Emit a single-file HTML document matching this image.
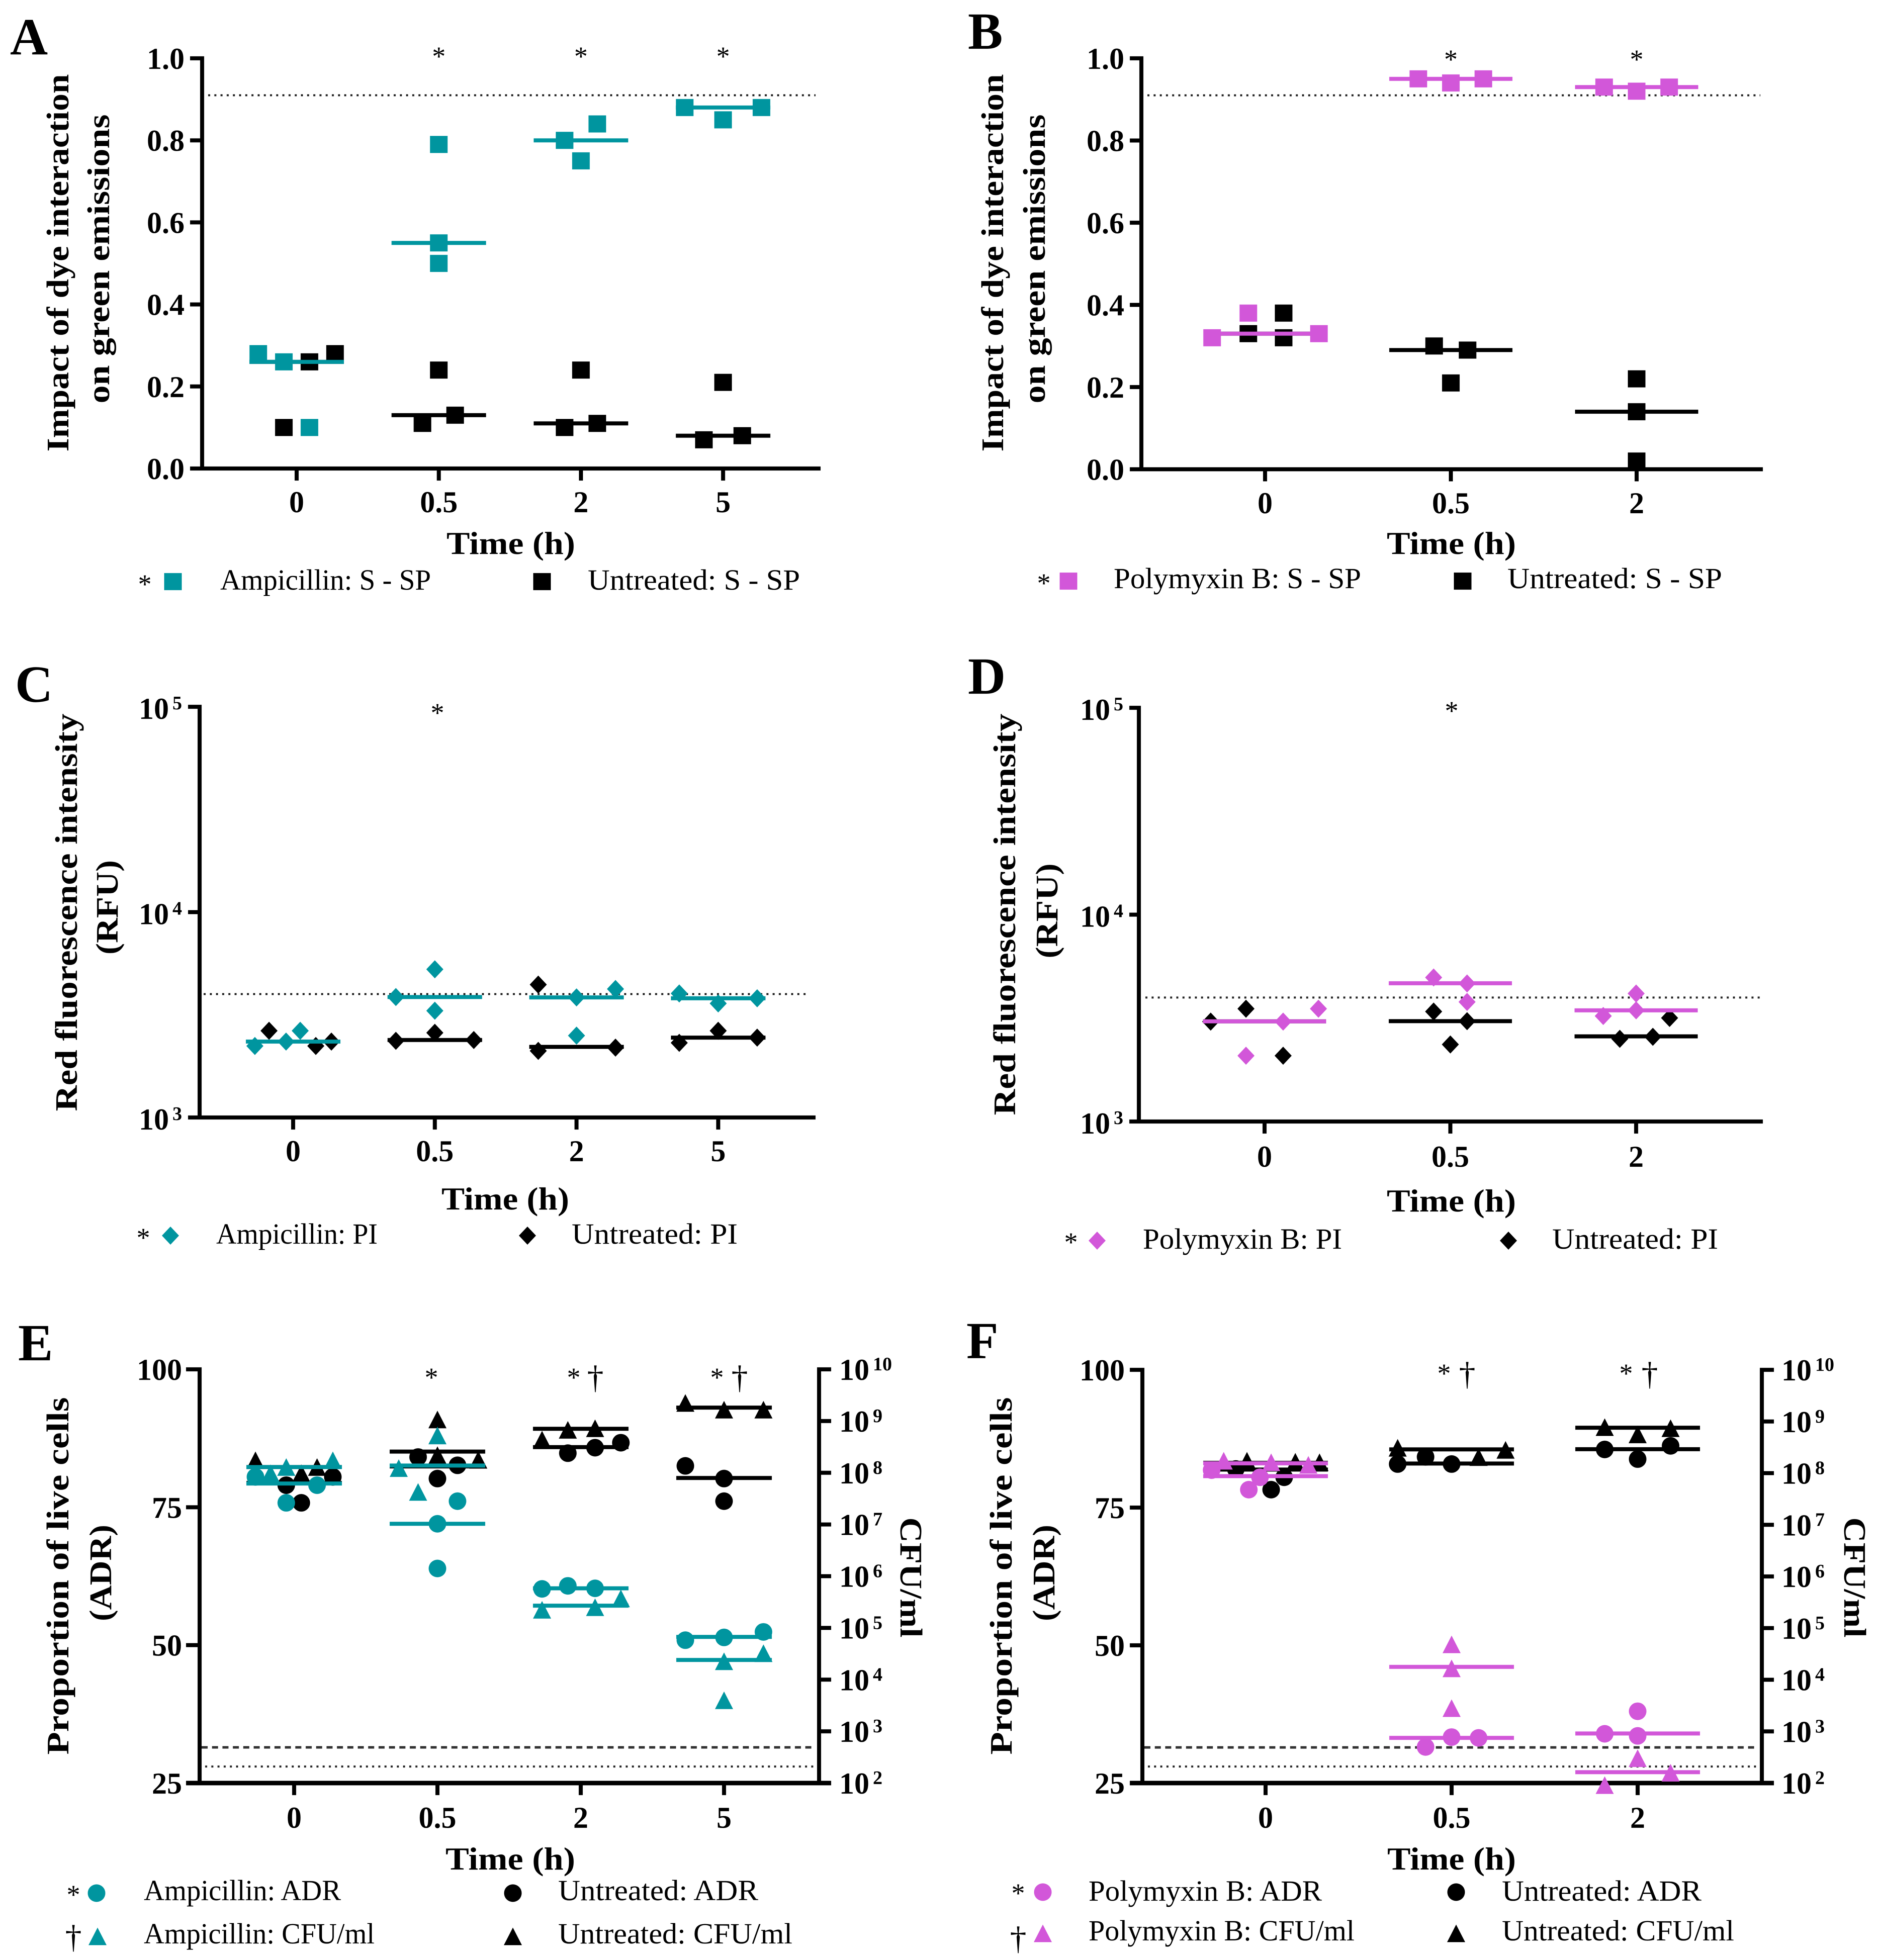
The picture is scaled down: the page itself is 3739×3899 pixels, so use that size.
<!DOCTYPE html>
<html lang="en">
<head>
<meta charset="utf-8">
<title>Dye interaction, PI fluorescence and viability panels</title>
<style>
html,body{margin:0;padding:0;background:#fff;}
body{width:3739px;height:3899px;overflow:hidden;}
svg{display:block;filter:blur(0.9px);}
text{font-family:"Liberation Serif","Times New Roman",serif;fill:#000;}
</style>
</head>
<body>
<svg id="figure" xmlns="http://www.w3.org/2000/svg" width="3739" height="3899" viewBox="0 0 3739 3899">
<rect x="0" y="0" width="3739" height="3899" fill="#fff"/>
</svg>
<script>
/* ---------- Panel A ---------- */
const aCategories = ['0','0.5','2','5'];
const aYTicks = [0,0.2,0.4,0.6,0.8,1.0];
const aYTickLabels = ['0.0','0.2','0.4','0.6','0.8','1.0'];
const aUntValues = [[.10,.26,.28],[.24,.11,.13],[.24,.10,.11],[.21,.07,.08]];
const aUntJitter = [[-.09,.09,.27],[0,-.115,.115],[0,-.115,.115],[0,-.135,.135]];
const aUntMeans = [.26,.13,.11,.08];
const aDrugValues = [[.28,.26,.10],[.79,.55,.50],[.80,.84,.75],[.88,.85,.88]];
const aDrugJitter = [[-.27,-.09,.09],[0,0,0],[-.115,.115,0],[-.27,0,.27]];
const aDrugMeans = [.26,.55,.80,.88];
const aThreshold = [0.91];

/* ---------- Panel B ---------- */
const bCategories = ['0','0.5','2'];
const bYTicks = [0,0.2,0.4,0.6,0.8,1.0];
const bYTickLabels = ['0.0','0.2','0.4','0.6','0.8','1.0'];
const bUntValues = [[.33,.38,.32],[.30,.29,.21],[.22,.14,.02]];
const bUntJitter = [[-.09,.1,.1],[-.09,.09,0],[0,0,0]];
const bUntMeans = [.33,.29,.14];
const bDrugValues = [[.32,.38,.33],[.95,.94,.95],[.93,.92,.93]];
const bDrugJitter = [[-.285,-.09,.29],[-.175,0,.175],[-.175,0,.175]];
const bDrugMeans = [.33,.95,.93];
const bThreshold = [0.91];

/* ---------- Panel C ---------- */
const cCategories = ['0','0.5','2','5'];
const cYTicks = [1000,10000,100000];
const cYTickBase = ['10','10','10'];
const cYTickExp = ['3','4','5'];
const cUntValues = [[2644,2229,2342],[2363,2585,2384],[4437,2111,2189],[2310,2644,2449]];
const cUntJitter = [[-.17,.16,.27],[-.275,0,.275],[-.27,-.27,.275],[-.275,0,.275]];
const cUntMeans = [2342,2384,2208,2449];
const cDrugValues = [[2229,2342,2644],[3860,5265,3311],[3843,4223,2505],[4019,3593,3807]];
const cDrugJitter = [[-.27,-.05,.05],[-.275,0,0],[0,.275,0],[-.275,0,.275]];
const cDrugMeans = [2342,3860,3843,3807];
const cThreshold = [3990];

/* ---------- Panel D ---------- */
const dCategories = ['0','0.5','2'];
const dYTicks = [1000,10000,100000];
const dYTickBase = ['10','10','10'];
const dYTickExp = ['3','4','5'];
const dUntValues = [[3041,3509,2080],[3400,3055,2357],[2510,2567,3166]];
const dUntJitter = [[-.29,-.1,.1],[-.09,.09,0],[-.088,.09,.18]];
const dUntMeans = [3050,3055,2580];
const dDrugValues = [[2080,3041,3509],[4970,4648,3785],[3236,4157,3446]];
const dDrugJitter = [[-.1,.1,.29],[-.09,.09,.09],[-.177,0,0]];
const dDrugMeans = [3050,4660,3446];
const dThreshold = [3976];

/* ---------- Panel E ---------- */
const eCategories = ['0','0.5','2','5'];
const eYTicks = [25,50,75,100];
const eYTickLabels = ['25','50','75','100'];
const eCfuTicks = [2,3,4,5,6,7,8,9,10];
const eUntAdr = [[79,75.8,80.5],[84.1,82.6,80.2],[84.8,85.8,86.7],[82.5,80.2,76.1]];
const eUntAdrJitter = [[-.055,.05,.27],[-.135,.14,0],[-.09,.1,.28],[-.27,0,0]];
const eUntAdrMeans = [79.4,82.4,85.9,80.3];
const eUntCfu = [[8.24,7.99,8.11],[9.03,8.34,8.25],[8.64,8.83,8.86],[9.35,9.22,9.22]];
const eUntCfuJitter = [[-.27,.05,.16],[0,0,.285],[-.27,-.09,.1],[-.27,0,.275]];
const eUntCfuMeans = [8.11,8.41,8.85,9.26];
const eDrugAdr = [[80.5,75.8,79],[72,76.1,63.9],[60.2,60.75,60.3],[50.9,51.4,52.4]];
const eDrugAdrJitter = [[-.27,-.055,.16],[0,.14,0],[-.27,-.09,.1],[-.27,0,.275]];
const eDrugAdrMeans = [79.3,72,60.3,51.5];
const eDrugCfu = [[7.99,8.11,8.24],[8.72,8.09,7.63],[5.35,5.40,5.57],[4.355,4.51,3.6]];
const eDrugCfuJitter = [[-.165,-.055,.27],[0,-.27,-.135],[-.27,.1,.28],[0,.275,0]];
const eDrugCfuMeans = [8.11,8.14,5.43,4.38];
const eLimits = [31.47,28];

/* ---------- Panel F ---------- */
const fCategories = ['0','0.5','2'];
const fYTicks = [25,50,75,100];
const fYTickLabels = ['25','50','75','100'];
const fCfuTicks = [2,3,4,5,6,7,8,9,10];
const fUntAdr = [[82,78.25,80.5],[82.9,84.2,82.9],[85.55,83.8,86.2]];
const fUntAdrJitter = [[-.16,.03,.1],[-.29,-.14,0],[-.177,0,.177]];
const fUntAdrMeans = [81.9,83,85.6];
const fUntCfu = [[8.24,8.22,8.21],[8.49,8.31,8.45],[8.89,8.75,8.87]];
const fUntCfuJitter = [[-.1,.16,.29],[-.29,.145,.29],[-.177,0,.177]];
const fUntCfuMeans = [8.2,8.46,8.88];
const fDrugAdr = [[81.8,78.25,80.5],[31.55,33.34,33.2],[33.94,33.56,38.03]];
const fDrugAdrJitter = [[-.29,-.09,-.03],[-.14,0,.145],[-.177,0,0]];
const fDrugAdrMeans = [80.7,33.2,34];
const fDrugCfu = [[8.24,8.21,8.16],[4.685,4.22,3.45],[1.96,2.48,2.2]];
const fDrugCfuJitter = [[-.225,.03,.23],[0,0,0],[-.177,0,.177]];
const fDrugCfuMeans = [8.19,4.25,2.21];
const fLimits = [31.47,28];

const TEAL = '#00959f';
const PINK = '#d257d9';
const BLACK = '#000000';
const DOT = '4 8.3';
const DASH = '12 8.7';
const NS = 'http://www.w3.org/2000/svg';
const root = document.getElementById('figure');

function mk(parent, tag, attrs, content) {
  const n = document.createElementNS(NS, tag);
  for (const k in attrs) n.setAttribute(k, attrs[k]);
  if (content !== undefined) n.textContent = content;
  parent.appendChild(n);
  return n;
}
function linearAxis(d0, d1, r0, r1) {
  return v => r0 + (v - d0) * (r1 - r0) / (d1 - d0);
}
function logAxis(d0, d1, r0, r1) {
  return v => r0 + (Math.log10(v) - Math.log10(d0)) * (r1 - r0) / (Math.log10(d1) - Math.log10(d0));
}
function categoryAxis(first, step) {
  return i => first + i * step;
}
function line(parent, x1, y1, x2, y2, color, width, name, dash) {
  const attrs = {x1, y1, x2, y2, stroke: color, 'stroke-width': width};
  if (dash) attrs['stroke-dasharray'] = dash;
  const n = mk(parent, 'line', attrs);
  
  
  return n;
}
function label(parent, x, y, str, size, weight, anchor, len, name) {
  const attrs = {x, y, 'font-size': size, 'font-weight': weight, 'text-anchor': anchor};
  if (len) { attrs.textLength = len; attrs.lengthAdjust = 'spacingAndGlyphs'; }
  const n = mk(parent, 'text', attrs, str);
  
  
  return n;
}
function rotatedLabel(parent, x, y, angle, str, size, len, name) {
  const n = mk(parent, 'text', {
    transform: 'translate(' + x + ',' + y + ') rotate(' + angle + ')',
    'font-size': size, 'font-weight': 'bold', 'text-anchor': 'middle',
    textLength: len, lengthAdjust: 'spacingAndGlyphs'
  }, str);
  
  
  return n;
}
function marker(parent, shape, cx, cy, color, name) {
  let n;
  if (shape === 'square') {
    n = mk(parent, 'rect', {x: cx - 17.5, y: cy - 17, width: 35, height: 34, fill: color});
  } else if (shape === 'diamond') {
    n = mk(parent, 'polygon', {points: (cx-17)+','+cy+' '+cx+','+(cy-18)+' '+(cx+17)+','+cy+' '+cx+','+(cy+18), fill: color});
  } else if (shape === 'circle') {
    n = mk(parent, 'ellipse', {cx, cy, rx: 17.5, ry: 17.5, fill: color});
  } else {
    n = mk(parent, 'polygon', {points: (cx-18)+','+(cy+17.5)+' '+cx+','+(cy-17.5)+' '+(cx+18)+','+(cy+17.5), fill: color});
  }
  
  
  return n;
}
function drawSeries(parent, s, xAxis, yAxis, step, halfWidth) {
  const g = mk(parent, 'g', {});
  
  
  s.values.forEach((group, i) => {
    group.forEach((v, j) => {
      marker(g, s.shape, xAxis(i) + s.jitter[i][j] * step, yAxis(v), s.color, s.name + '-point');
    });
    const my = yAxis(s.means[i]);
    line(g, xAxis(i) - halfWidth, my, xAxis(i) + halfWidth, my, s.color, 8, s.name + '-mean-line');
  });
}
function drawXAxis(g, p, xAxis, cats) {
  line(g, p.xStart, p.yBottom, p.xEnd, p.yBottom, BLACK, p.xWidth, 'x-axis-line');
  cats.forEach((c, i) => {
    line(g, xAxis(i), p.yBottom, xAxis(i), p.yBottom + 24, BLACK, 8, 'x-axis-tick');
    label(g, xAxis(i), p.xLabelY, c, 60, 'bold', 'middle', null, 'x-tick-label');
  });
  label(g, p.timeX, p.timeY, 'Time (h)', 64, 'bold', 'start', p.timeLen, 'x-axis-title');
}
function drawLeftAxisLine(g, p) {
  line(g, p.axisX, p.yTop - 4, p.axisX, p.yBottom, BLACK, 8, 'y-axis-line');
}
function drawLinearTicks(g, p, yAxis, ticks, labels) {
  ticks.forEach((t, i) => {
    line(g, p.xStart, yAxis(t), p.axisX, yAxis(t), BLACK, 8, 'y-axis-tick');
    label(g, p.labelRight, yAxis(t) + 21, labels[i], 60, 'bold', 'end', null, 'y-tick-label');
  });
}
function powerLabel(g, x, y, base, exp, name) {
  const n = mk(g, 'text', {x, y, 'font-size': 60, 'font-weight': 'bold'}, base);
  const t = mk(n, 'tspan', {dy: -19, dx: 7, 'font-size': 38}, exp);
  
  
  
  
}
function drawLogTicks(g, p, yAxis, ticks, bases, exps) {
  ticks.forEach((t, i) => {
    line(g, p.xStart, yAxis(t), p.axisX, yAxis(t), BLACK, 8, 'y-axis-tick');
    powerLabel(g, p.labelLeft, yAxis(t) + 24, bases[i], exps[i], 'y-tick-label');
  });
}
function drawRightAxis(g, p, yAxis, ticks) {
  line(g, p.rightX, p.yTop - 4, p.rightX, p.yBottom, BLACK, 8, 'cfu-axis-line');
  ticks.forEach(t => {
    line(g, p.rightX, yAxis(t), p.rightX + 24, yAxis(t), BLACK, t === 2 ? p.xWidth : 8, 'cfu-axis-tick');
    powerLabel(g, p.rightLabelX, yAxis(t) + 21, '10', String(t), 'cfu-tick-label');
  });
}
function legendItem(g, e) {
  const it = mk(g, 'g', {});
  
  
  if (e.sign) {
    label(it, e.sx, e.sy, e.sign, e.sign === '*' ? 54 : 66, 'normal', 'middle', null, 'legend-significance-mark');
  }
  marker(it, e.shape, e.mx, e.my, e.color, 'legend-marker');
  label(it, e.tx, e.ty, e.text, 58, 'normal', 'start', e.tw, 'legend-label');
}
function mark(g, x, centerY, sign) {
  if (sign === '*') {
    label(g, x, centerY + 24, '*', 54, 'normal', 'middle', null, 'significance-asterisk');
  } else {
    label(g, x, centerY + 17, '\u2020', 66, 'normal', 'middle', null, 'significance-dagger');
  }
}
function panelGroup(id) {
  const g = mk(root, 'g', {});
  
  
  return g;
}

/* Panel A */
(function () {
  const g = panelGroup('a');
  const p = {axisX:402,xStart:378,xEnd:1632,xWidth:8,yTop:116,yBottom:932,labelRight:367,xLabelY:1019,timeX:888,timeY:1102,timeLen:256};
  const x = categoryAxis(590, 282.7), y = linearAxis(0, 1, p.yBottom, p.yTop);
  label(g, 20, 108, 'A', 104, 'bold', 'start', null, 'panel-letter');
  rotatedLabel(g, 136, 523, -90, 'Impact of dye interaction', 62, 751, 'y-axis-title-line-1');
  rotatedLabel(g, 217, 515, -90, 'on green emissions', 62, 575, 'y-axis-title-line-2');
  drawLeftAxisLine(g, p); drawLinearTicks(g, p, y, aYTicks, aYTickLabels); drawXAxis(g, p, x, aCategories);
  line(g, 414, y(aThreshold[0]), 1622, y(aThreshold[0]), '#222', 4, 'threshold-line', DOT);
  drawSeries(g, {name:'untreated-s-sp',shape:'square',color:BLACK,values:aUntValues,jitter:aUntJitter,means:aUntMeans}, x, y, 282.7, 94);
  drawSeries(g, {name:'ampicillin-s-sp',shape:'square',color:TEAL,values:aDrugValues,jitter:aDrugJitter,means:aDrugMeans}, x, y, 282.7, 94);
  [1,2,3].forEach(i => mark(g, x(i), 106, '*'));
  legendItem(g, {sign:'*',sx:288,sy:1180,shape:'square',color:TEAL,mx:344,my:1157,text:'Ampicillin: S - SP',tx:438,ty:1173,tw:419});
  legendItem(g, {shape:'square',color:BLACK,mx:1078,my:1157,text:'Untreated: S - SP',tx:1169,ty:1173,tw:422});
})();

/* Panel B */
(function () {
  const g = panelGroup('b');
  const p = {axisX:2270,xStart:2247,xEnd:3506,xWidth:8,yTop:116,yBottom:933.5,labelRight:2236,xLabelY:1021,timeX:2758,timeY:1102,timeLen:257};
  const x = categoryAxis(2516, 369.5), y = linearAxis(0, 1, p.yBottom, p.yTop);
  label(g, 1925, 97, 'B', 104, 'bold', 'start', null, 'panel-letter');
  rotatedLabel(g, 1995, 523, -90, 'Impact of dye interaction', 62, 751, 'y-axis-title-line-1');
  rotatedLabel(g, 2078, 515, -90, 'on green emissions', 62, 575, 'y-axis-title-line-2');
  drawLeftAxisLine(g, p); drawLinearTicks(g, p, y, bYTicks, bYTickLabels); drawXAxis(g, p, x, bCategories);
  line(g, 2282, y(bThreshold[0]), 3501, y(bThreshold[0]), '#222', 4, 'threshold-line', DOT);
  drawSeries(g, {name:'untreated-s-sp',shape:'square',color:BLACK,values:bUntValues,jitter:bUntJitter,means:bUntMeans}, x, y, 369.5, 122.5);
  drawSeries(g, {name:'polymyxin-s-sp',shape:'square',color:PINK,values:bDrugValues,jitter:bDrugJitter,means:bDrugMeans}, x, y, 369.5, 122.5);
  [1,2].forEach(i => mark(g, x(i), 112, '*'));
  legendItem(g, {sign:'*',sx:2076,sy:1178,shape:'square',color:PINK,mx:2125,my:1156,text:'Polymyxin B: S - SP',tx:2215,ty:1170,tw:492});
  legendItem(g, {shape:'square',color:BLACK,mx:2909,my:1156,text:'Untreated: S - SP',tx:2998,ty:1170,tw:427});
})();

/* Panel C */
(function () {
  const g = panelGroup('c');
  const p = {axisX:397,xStart:374,xEnd:1622,xWidth:8,yTop:1406,yBottom:2223,labelLeft:276,xLabelY:2310,timeX:878,timeY:2406,timeLen:254};
  const x = categoryAxis(583, 281.8), y = logAxis(1000, 100000, p.yBottom, p.yTop);
  label(g, 30, 1396, 'C', 104, 'bold', 'start', null, 'panel-letter');
  rotatedLabel(g, 153, 1815, -90, 'Red fluorescence intensity', 62, 791, 'y-axis-title-line-1');
  rotatedLabel(g, 234, 1805, -90, '(RFU)', 62, 188, 'y-axis-title-line-2');
  drawLeftAxisLine(g, p); drawLogTicks(g, p, y, cYTicks, cYTickBase, cYTickExp); drawXAxis(g, p, x, cCategories);
  line(g, 405, y(cThreshold[0]), 1610, y(cThreshold[0]), '#222', 4, 'threshold-line', DOT);
  drawSeries(g, {name:'untreated-pi',shape:'diamond',color:BLACK,values:cUntValues,jitter:cUntJitter,means:cUntMeans}, x, y, 281.8, 94);
  drawSeries(g, {name:'ampicillin-pi',shape:'diamond',color:TEAL,values:cDrugValues,jitter:cDrugJitter,means:cDrugMeans}, x, y, 281.8, 94);
  mark(g, 870, 1412, '*');
  legendItem(g, {sign:'*',sx:285,sy:2480,shape:'diamond',color:TEAL,mx:339,my:2458,text:'Ampicillin: PI',tx:430,ty:2474,tw:321});
  legendItem(g, {shape:'diamond',color:BLACK,mx:1049,my:2458,text:'Untreated: PI',tx:1137,ty:2474,tw:330});
})();

/* Panel D */
(function () {
  const g = panelGroup('d');
  const p = {axisX:2265,xStart:2246,xEnd:3506,xWidth:8,yTop:1408,yBottom:2231,labelLeft:2148,xLabelY:2321,timeX:2758,timeY:2410,timeLen:257};
  const x = categoryAxis(2515, 369.5), y = logAxis(1000, 100000, p.yBottom, p.yTop);
  label(g, 1925, 1380, 'D', 104, 'bold', 'start', null, 'panel-letter');
  rotatedLabel(g, 2019, 1819, -90, 'Red fluorescence intensity', 62, 799, 'y-axis-title-line-1');
  rotatedLabel(g, 2103, 1812, -90, '(RFU)', 62, 189, 'y-axis-title-line-2');
  drawLeftAxisLine(g, p); drawLogTicks(g, p, y, dYTicks, dYTickBase, dYTickExp); drawXAxis(g, p, x, dCategories);
  line(g, 2278, y(dThreshold[0]), 3501, y(dThreshold[0]), '#222', 4, 'threshold-line', DOT);
  drawSeries(g, {name:'untreated-pi',shape:'diamond',color:BLACK,values:dUntValues,jitter:dUntJitter,means:dUntMeans}, x, y, 369.5, 122.5);
  drawSeries(g, {name:'polymyxin-pi',shape:'diamond',color:PINK,values:dDrugValues,jitter:dDrugJitter,means:dDrugMeans}, x, y, 369.5, 122.5);
  mark(g, 2887, 1408, '*');
  legendItem(g, {sign:'*',sx:2130,sy:2489,shape:'diamond',color:PINK,mx:2182,my:2468,text:'Polymyxin B: PI',tx:2273,ty:2484,tw:396});
  legendItem(g, {shape:'diamond',color:BLACK,mx:3000,my:2468,text:'Untreated: PI',tx:3087,ty:2484,tw:330});
})();

/* Panel E */
(function () {
  const g = panelGroup('e');
  const p = {axisX:397,xStart:370,xEnd:1629,xWidth:9,yTop:2724,yBottom:3547,rightX:1629,rightLabelX:1669,labelRight:362,xLabelY:3636,timeX:886,timeY:3719,timeLen:258};
  const x = categoryAxis(585, 285), y = linearAxis(25, 100, p.yBottom, p.yTop), yc = linearAxis(2, 10, p.yBottom, p.yTop);
  label(g, 36, 2706, 'E', 104, 'bold', 'start', null, 'panel-letter');
  rotatedLabel(g, 136, 3135, -90, 'Proportion of live cells', 62, 711, 'y-axis-title-line-1');
  rotatedLabel(g, 221, 3129, -90, '(ADR)', 62, 192, 'y-axis-title-line-2');
  rotatedLabel(g, 1791, 3138, 90, 'CFU/ml', 62, 239, 'cfu-axis-title');
  drawLeftAxisLine(g, p); drawLinearTicks(g, p, y, eYTicks, eYTickLabels); drawRightAxis(g, p, yc, eCfuTicks); drawXAxis(g, p, x, eCategories);
  line(g, 401, y(eLimits[0]), 1620, y(eLimits[0]), '#333', 5, 'detection-limit-dashed-line', DASH);
  line(g, 408, y(eLimits[1]), 1620, y(eLimits[1]), '#222', 4, 'detection-limit-dotted-line', DOT);
  drawSeries(g, {name:'untreated-adr',shape:'circle',color:BLACK,values:eUntAdr,jitter:eUntAdrJitter,means:eUntAdrMeans}, x, y, 285, 95);
  drawSeries(g, {name:'untreated-cfu',shape:'triangle',color:BLACK,values:eUntCfu,jitter:eUntCfuJitter,means:eUntCfuMeans}, x, yc, 285, 95);
  drawSeries(g, {name:'ampicillin-cfu',shape:'triangle',color:TEAL,values:eDrugCfu,jitter:eDrugCfuJitter,means:eDrugCfuMeans}, x, yc, 285, 95);
  drawSeries(g, {name:'ampicillin-adr',shape:'circle',color:TEAL,values:eDrugAdr,jitter:eDrugAdrJitter,means:eDrugAdrMeans}, x, y, 285, 95);
  mark(g, 858, 2734, '*');
  mark(g, 1141, 2734, '*');
  mark(g, 1184, 2745, '\u2020');
  mark(g, 1426, 2734, '*');
  mark(g, 1471, 2745, '\u2020');
  legendItem(g, {sign:'*',sx:146,sy:3787,shape:'circle',color:TEAL,mx:192,my:3766,text:'Ampicillin: ADR',tx:286,ty:3780,tw:392});
  legendItem(g, {shape:'circle',color:BLACK,mx:1020,my:3766,text:'Untreated: ADR',tx:1110,ty:3780,tw:398});
  legendItem(g, {sign:'\u2020',sx:146,sy:3875,shape:'triangle',color:TEAL,mx:194,my:3852,text:'Ampicillin: CFU/ml',tx:286,ty:3866,tw:459});
  legendItem(g, {shape:'triangle',color:BLACK,mx:1020,my:3852,text:'Untreated: CFU/ml',tx:1110,ty:3866,tw:466});
})();

/* Panel F */
(function () {
  const g = panelGroup('f');
  const p = {axisX:2272,xStart:2247,xEnd:3504,xWidth:9,yTop:2725,yBottom:3547,rightX:3504,rightLabelX:3543,labelRight:2237,xLabelY:3636,timeX:2759,timeY:3719,timeLen:256};
  const x = categoryAxis(2517, 370), y = linearAxis(25, 100, p.yBottom, p.yTop), yc = linearAxis(2, 10, p.yBottom, p.yTop);
  label(g, 1922, 2702, 'F', 104, 'bold', 'start', null, 'panel-letter');
  rotatedLabel(g, 2012, 3135, -90, 'Proportion of live cells', 62, 711, 'y-axis-title-line-1');
  rotatedLabel(g, 2097, 3129, -90, '(ADR)', 62, 192, 'y-axis-title-line-2');
  rotatedLabel(g, 3668, 3138, 90, 'CFU/ml', 62, 239, 'cfu-axis-title');
  drawLeftAxisLine(g, p); drawLinearTicks(g, p, y, fYTicks, fYTickLabels); drawRightAxis(g, p, yc, fCfuTicks); drawXAxis(g, p, x, fCategories);
  line(g, 2276, y(fLimits[0]), 3494, y(fLimits[0]), '#333', 5, 'detection-limit-dashed-line', DASH);
  line(g, 2283, y(fLimits[1]), 3494, y(fLimits[1]), '#222', 4, 'detection-limit-dotted-line', DOT);
  drawSeries(g, {name:'untreated-adr',shape:'circle',color:BLACK,values:fUntAdr,jitter:fUntAdrJitter,means:fUntAdrMeans}, x, y, 370, 124);
  drawSeries(g, {name:'untreated-cfu',shape:'triangle',color:BLACK,values:fUntCfu,jitter:fUntCfuJitter,means:fUntCfuMeans}, x, yc, 370, 124);
  drawSeries(g, {name:'polymyxin-cfu',shape:'triangle',color:PINK,values:fDrugCfu,jitter:fDrugCfuJitter,means:fDrugCfuMeans}, x, yc, 370, 124);
  drawSeries(g, {name:'polymyxin-adr',shape:'circle',color:PINK,values:fDrugAdr,jitter:fDrugAdrJitter,means:fDrugAdrMeans}, x, y, 370, 124);
  mark(g, 2872, 2726, '*');
  mark(g, 2918, 2738, '\u2020');
  mark(g, 3234, 2726, '*');
  mark(g, 3281, 2738, '\u2020');
  legendItem(g, {sign:'*',sx:2025,sy:3784,shape:'circle',color:PINK,mx:2074,my:3764,text:'Polymyxin B: ADR',tx:2165,ty:3781,tw:464});
  legendItem(g, {shape:'circle',color:BLACK,mx:2896,my:3764,text:'Untreated: ADR',tx:2987,ty:3781,tw:397});
  legendItem(g, {sign:'\u2020',sx:2025,sy:3878,shape:'triangle',color:PINK,mx:2074,my:3846,text:'Polymyxin B: CFU/ml',tx:2165,ty:3860,tw:529});
  legendItem(g, {shape:'triangle',color:BLACK,mx:2896,my:3846,text:'Untreated: CFU/ml',tx:2987,ty:3860,tw:462});
})();
</script>
</body>
</html>
